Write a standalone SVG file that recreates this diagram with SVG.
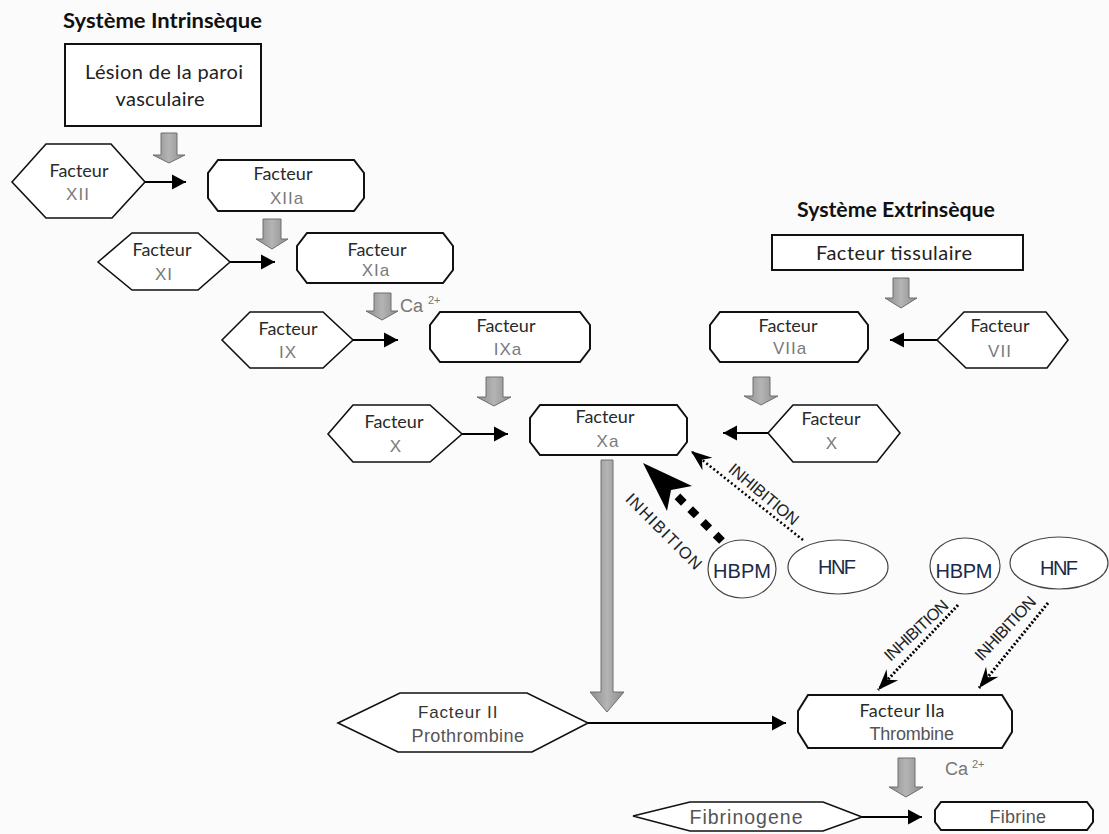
<svg xmlns="http://www.w3.org/2000/svg" width="1109" height="834" viewBox="0 0 1109 834">
<defs>
<marker id="tri" markerUnits="userSpaceOnUse" markerWidth="16" markerHeight="16" viewBox="-15 -8 16 16" refX="0" refY="0" orient="auto">
<path d="M0,0 L-14,-7.5 L-14,7.5 Z" fill="#000"/>
</marker>
<marker id="stealth" markerUnits="userSpaceOnUse" markerWidth="24" markerHeight="20" viewBox="-22 -10 24 20" refX="0" refY="0" orient="auto">
<path d="M0,0 L-21,-8 L-14,0 L-21,8 Z" fill="#000"/>
</marker>
<linearGradient id="g" x1="0" y1="0" x2="1" y2="0">
<stop offset="0" stop-color="#8c8c8c"/>
<stop offset="0.5" stop-color="#b4b4b4"/>
<stop offset="1" stop-color="#8c8c8c"/>
</linearGradient>
<style>
.box{fill:#fff;stroke:#111;stroke-width:2}
.hex{fill:#fff;stroke:#111;stroke-width:1.6}
.ell{fill:#fff;stroke:#444;stroke-width:1.2}
.blk{fill:url(#g);stroke:#6e6e6e;stroke-width:1}
.arr{stroke:#000;stroke-width:2;fill:none;marker-end:url(#tri)}
.fac{font-family:Lato,"Open Sans",sans-serif;font-size:18px;fill:#2a2a2a;text-anchor:middle}
.num{font-family:"Liberation Sans",Arial,sans-serif;font-size:17px;fill:#7a7a7a;text-anchor:middle;letter-spacing:1px}
.gry{font-family:"Liberation Sans",Arial,sans-serif;font-size:18px;fill:#555;text-anchor:middle;letter-spacing:0.6px}
.ttl{font-family:Lato,"Open Sans",sans-serif;font-size:21px;font-weight:bold;fill:#111}
.big{font-family:Lato,"Open Sans",sans-serif;font-size:20px;fill:#222;text-anchor:middle}
.ca{font-family:"Liberation Sans",Arial,sans-serif;font-size:18px;fill:#777}
.sup{font-family:"Liberation Sans",Arial,sans-serif;font-size:11px;fill:#777}
.inh{font-family:"Liberation Sans",Arial,sans-serif;font-size:16.5px;fill:#222;text-anchor:middle}
.hb{font-family:"Liberation Sans",Arial,sans-serif;font-size:20px;fill:#1a2a4a;text-anchor:middle}
</style>
</defs>
<rect x="0" y="0" width="1109" height="834" fill="#fbfbfb"/>

<text class="ttl" x="63" y="28" textLength="199" lengthAdjust="spacingAndGlyphs">Système Intrinsèque</text>
<text class="ttl" x="797" y="217" textLength="198" lengthAdjust="spacingAndGlyphs">Système Extrinsèque</text>

<g id="lesion">
<rect class="box" x="65" y="44" width="196" height="82"/>
<text class="big" x="164" y="79" textLength="158">Lésion de la paroi</text>
<text class="big" x="160" y="106" textLength="89">vasculaire</text>
</g>

<g id="tissulaire">
<rect class="box" x="772" y="235" width="251" height="35"/>
<text class="big" x="894" y="260" textLength="156">Facteur tissulaire</text>
</g>

<g id="f12">
<path class="hex" d="M12,182 L46,144 L111,144 L145,182 L112,218 L46,218 Z"/>
<text class="fac" x="79" y="177">Facteur</text>
<text class="num" x="78" y="200">XII</text>
</g>
<g id="f12a">
<path class="box" d="M218,160 H354 L364,173 V198 L354,211 H218 L208,198 V173 Z"/>
<text class="fac" x="283" y="180">Facteur</text>
<text class="num" x="287" y="204">XIIa</text>
</g>
<g id="f11">
<path class="hex" d="M98,262 L132,233 L198,233 L230,262 L198,290 L132,290 Z"/>
<text class="fac" x="162" y="256">Facteur</text>
<text class="num" x="164" y="280">XI</text>
</g>
<g id="f11a">
<path class="box" d="M307,233 H443 L453,246 V270 L443,283 H307 L297,270 V246 Z"/>
<text class="fac" x="377" y="256">Facteur</text>
<text class="num" x="376" y="276">XIa</text>
</g>
<g id="f9">
<path class="hex" d="M222,340 L250,312 L323,312 L353,340 L323,368 L250,368 Z"/>
<text class="fac" x="288" y="335">Facteur</text>
<text class="num" x="288" y="358">IX</text>
</g>
<g id="f9a">
<path class="box" d="M440,312 H580 L590,325 V349 L580,362 H440 L430,349 V325 Z"/>
<text class="fac" x="506" y="332">Facteur</text>
<text class="num" x="508" y="355">IXa</text>
</g>
<g id="f10l">
<path class="hex" d="M328,434 L353,405 L430,405 L462,434 L430,462 L353,462 Z"/>
<text class="fac" x="394" y="428">Facteur</text>
<text class="num" x="396" y="452">X</text>
</g>
<g id="f10a">
<path class="box" d="M540,405 H677 L687,418 V442 L677,455 H540 L530,442 V418 Z"/>
<text class="fac" x="605" y="423">Facteur</text>
<text class="num" x="608" y="447">Xa</text>
</g>
<g id="f7a">
<path class="box" d="M720,312 H858 L868,325 V349 L858,362 H720 L710,349 V325 Z"/>
<text class="fac" x="788" y="332">Facteur</text>
<text class="num" x="790" y="354">VIIa</text>
</g>
<g id="f7">
<path class="hex" d="M937,340 L964,312 L1046,312 L1068,340 L1047,368 L966,368 Z"/>
<text class="fac" x="1000" y="332">Facteur</text>
<text class="num" x="1000" y="357">VII</text>
</g>
<g id="f10r">
<path class="hex" d="M768,433 L793,405 L877,405 L900,433 L877,462 L793,462 Z"/>
<text class="fac" x="831" y="425">Facteur</text>
<text class="num" x="832" y="449">X</text>
</g>
<g id="f2">
<path class="hex" d="M338,723 L400,693 L527,693 L588,723 L532,752 L398,752 Z"/>
<text class="gry" x="458" y="718" style="fill:#333;font-size:17px" textLength="80">Facteur  II</text>
<text class="gry" x="468" y="742" textLength="113">Prothrombine</text>
</g>
<g id="f2a">
<path class="box" d="M808,695 H1002 L1012,711 V732 L1002,748 H808 L798,732 V711 Z"/>
<text class="fac" x="902" y="717" textLength="85">Facteur IIa</text>
<text class="gry" x="912" y="740" textLength="85">Thrombine</text>
</g>
<g id="fibrinogene">
<path class="hex" d="M633,816 L690,802 L823,802 L862,817 L823,831 L690,831 Z"/>
<text class="gry" x="746" y="824" style="font-size:19.5px;letter-spacing:0" textLength="113">Fibrinogene</text>
</g>
<g id="fibrine">
<path class="box" d="M941,802 H1087 L1093,810 V822 L1087,830 H941 L935,822 V810 Z"/>
<text class="gry" x="1018" y="823" textLength="57">Fibrine</text>
</g>

<g id="hbpm1">
<ellipse class="ell" cx="742" cy="569" rx="34" ry="29"/>
<text class="hb" x="742" y="578" textLength="58">HBPM</text>
</g>
<g id="hnf1">
<ellipse class="ell" cx="838" cy="567" rx="50" ry="27"/>
<text class="hb" x="837" y="574" textLength="38">HNF</text>
</g>
<g id="hbpm2">
<ellipse class="ell" cx="965" cy="566" rx="35" ry="28"/>
<text class="hb" x="964" y="578" textLength="57">HBPM</text>
</g>
<g id="hnf2">
<ellipse class="ell" cx="1059" cy="563" rx="49" ry="26"/>
<text class="hb" x="1059" y="575" textLength="38">HNF</text>
</g>

<g id="connectors">
<path class="blk" d="M161,133 H177 V155 H185 L169,163 L153,155 H161 Z"/>
<path class="blk" d="M263,219 H281 V239 H288 L272,249 L256,239 H263 Z"/>
<path class="blk" d="M374,293 H391 V311 H398 L382,320 L366,311 H374 Z"/>
<path class="blk" d="M486,377 H503 V397 H511 L494,406 L477,397 H486 Z"/>
<path class="blk" d="M893,278 H909 V298 H917 L901,308 L885,298 H893 Z"/>
<path class="blk" d="M753,377 H770 V396 H778 L761,405 L744,396 H753 Z"/>
<path class="blk" d="M601,460 H613 V692 H624 L607,712 L590,692 H601 Z"/>
<path class="blk" d="M898,758 H915 V787 H923 L906,797 L889,787 H898 Z"/>

<line class="arr" x1="145" y1="182" x2="186" y2="182"/>
<line class="arr" x1="230" y1="262" x2="275" y2="262"/>
<line class="arr" x1="353" y1="340" x2="398" y2="340"/>
<line class="arr" x1="462" y1="434" x2="508" y2="434"/>
<line class="arr" x1="937" y1="340" x2="890" y2="340"/>
<line class="arr" x1="768" y1="433" x2="723" y2="433"/>
<line class="arr" x1="588" y1="723" x2="786" y2="723"/>
<line class="arr" x1="862" y1="817" x2="922" y2="817"/>

<line x1="722" y1="541" x2="674" y2="493" stroke="#000" stroke-width="8" stroke-dasharray="9 9"/>
<path d="M643,463 L692,486 L671,490 L667,511 Z" fill="#000"/>
<line x1="803" y1="540" x2="691" y2="451" stroke="#000" stroke-width="2.5" stroke-dasharray="2 2.5" marker-end="url(#stealth)"/>
<line x1="958" y1="605" x2="878" y2="690" stroke="#000" stroke-width="3" stroke-dasharray="2 2" marker-end="url(#stealth)"/>
<line x1="1048" y1="603" x2="979" y2="688" stroke="#000" stroke-width="3" stroke-dasharray="2 2" marker-end="url(#stealth)"/>

<text class="inh" transform="translate(664,531) rotate(45)" y="6" textLength="100">INHIBITION</text>
<text class="inh" transform="translate(764,494) rotate(40)" y="6" textLength="86">INHIBITION</text>
<text class="inh" transform="translate(916,630) rotate(-43)" y="6" textLength="81">INHIBITION</text>
<text class="inh" transform="translate(1005,628) rotate(-47)" y="6" textLength="81">INHIBITION</text>

<text class="ca" x="400" y="312">Ca</text>
<text class="sup" x="428" y="304">2+</text>
<text class="ca" x="945" y="775">Ca</text>
<text class="sup" x="972" y="768">2+</text>
</g>
</svg>
